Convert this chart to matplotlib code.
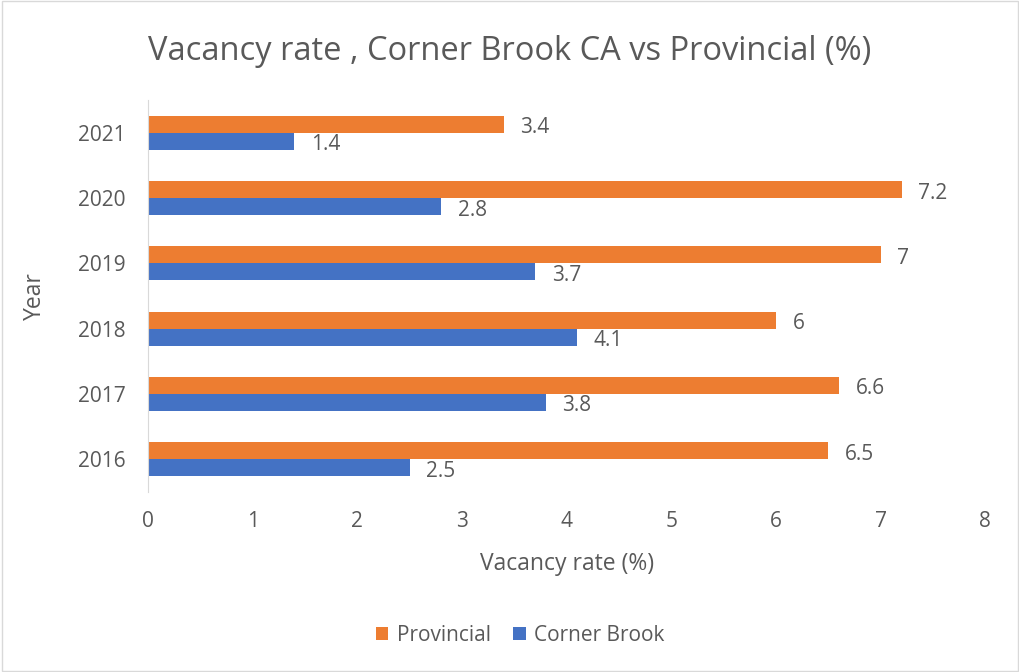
import numpy as np
import matplotlib.pyplot as plt
from matplotlib.patches import Rectangle

plt.rcParams['font.family'] = ['Open Sans', 'DejaVu Sans']

years = ['2016', '2017', '2018', '2019', '2020', '2021']
corner_brook = [2.5, 3.8, 4.1, 3.7, 2.8, 1.4]
provincial = [6.5, 6.6, 6.0, 7.0, 7.2, 3.4]

orange = '#ED7D31'
blue = '#4472C4'
txt = '#595959'

fig = plt.figure(figsize=(10.2, 6.72), dpi=100)
ax = fig.add_axes([0.145, 0.268, 0.821, 0.583])

y = np.arange(len(years))
h = 0.26
b1 = ax.barh(y + h / 2, provincial, height=h, color=orange, label='Provincial')
b2 = ax.barh(y - h / 2, corner_brook, height=h, color=blue, label='Corner Brook')

for bars, vals in [(b1, provincial), (b2, corner_brook)]:
    for bar, v in zip(bars, vals):
        ax.annotate(f'{v:g}', (bar.get_width(), bar.get_y() + bar.get_height() / 2),
                    xytext=(12, -2.5), textcoords='offset points', va='center', ha='left',
                    fontsize=15, color=txt)

ax.set_xlim(0, 8)
ax.set_ylim(-0.5, len(years) - 0.5)
ax.set_yticks(y)
ax.set_yticklabels(years)
ax.set_xticks(range(0, 9))
ax.tick_params(axis='both', length=0, labelsize=15, labelcolor=txt)
ax.tick_params(axis='x', pad=14)
ax.tick_params(axis='y', pad=16)
for s in ['top', 'right', 'bottom']:
    ax.spines[s].set_visible(False)
ax.spines['left'].set_color('#D9D9D9')

ax.set_xlabel('Vacancy rate (%)', fontsize=16.5, color=txt, labelpad=14)
ax.set_ylabel('Year', fontsize=16.5, color=txt, labelpad=22)
fig.suptitle('Vacancy rate , Corner Brook CA vs Provincial (%)', fontsize=23.5, color=txt, y=0.948)

fig.legend(handles=[b1, b2], loc='center', bbox_to_anchor=(0.51, 0.055), ncol=2, frameon=False,
           fontsize=15, labelcolor=txt, handlelength=0.6, handleheight=0.6, columnspacing=1.1,
           handletextpad=0.4)

fig.patches.append(Rectangle((0.002, 0.002), 0.996, 0.996, transform=fig.transFigure,
                             fill=False, edgecolor='#D9D9D9', linewidth=1))

fig.savefig('out.png', dpi=100)
